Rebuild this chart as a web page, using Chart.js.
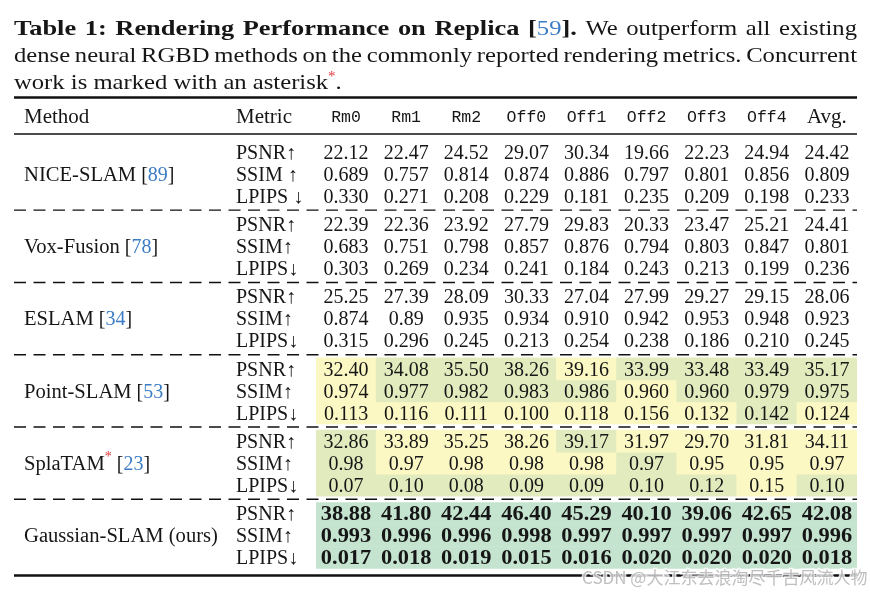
<!DOCTYPE html>
<html><head><meta charset="utf-8">
<script src="https://cdn.jsdelivr.net/npm/chart.js@4/dist/chart.umd.min.js"></script>
<style>html,body{margin:0;padding:0;background:#fff;overflow:hidden}</style>
</head><body>
<canvas id="c" width="870" height="593"></canvas>
<script>
// ---------- DATA ----------
const columns = ['Rm0','Rm1','Rm2','Off0','Off1','Off2','Off3','Off4','Avg.'];
const methods = ['NICE-SLAM','Vox-Fusion','ESLAM','Point-SLAM','SplaTAM','Gaussian-SLAM (ours)'];
const citations = ['89','78','34','53','23',''];
const concurrent = [false,false,false,false,true,false];
const metricNamesNice = ['PSNR↑','SSIM ↑','LPIPS ↓'];
const metricNames = ['PSNR↑','SSIM↑','LPIPS↓'];

const nicePSNR  = ['22.12','22.47','24.52','29.07','30.34','19.66','22.23','24.94','24.42'];
const niceSSIM  = ['0.689','0.757','0.814','0.874','0.886','0.797','0.801','0.856','0.809'];
const niceLPIPS = ['0.330','0.271','0.208','0.229','0.181','0.235','0.209','0.198','0.233'];

const voxPSNR  = ['22.39','22.36','23.92','27.79','29.83','20.33','23.47','25.21','24.41'];
const voxSSIM  = ['0.683','0.751','0.798','0.857','0.876','0.794','0.803','0.847','0.801'];
const voxLPIPS = ['0.303','0.269','0.234','0.241','0.184','0.243','0.213','0.199','0.236'];

const eslamPSNR  = ['25.25','27.39','28.09','30.33','27.04','27.99','29.27','29.15','28.06'];
const eslamSSIM  = ['0.874','0.89','0.935','0.934','0.910','0.942','0.953','0.948','0.923'];
const eslamLPIPS = ['0.315','0.296','0.245','0.213','0.254','0.238','0.186','0.210','0.245'];

const pointPSNR  = ['32.40','34.08','35.50','38.26','39.16','33.99','33.48','33.49','35.17'];
const pointSSIM  = ['0.974','0.977','0.982','0.983','0.986','0.960','0.960','0.979','0.975'];
const pointLPIPS = ['0.113','0.116','0.111','0.100','0.118','0.156','0.132','0.142','0.124'];

const splaPSNR  = ['32.86','33.89','35.25','38.26','39.17','31.97','29.70','31.81','34.11'];
const splaSSIM  = ['0.98','0.97','0.98','0.98','0.98','0.97','0.95','0.95','0.97'];
const splaLPIPS = ['0.07','0.10','0.08','0.09','0.09','0.10','0.12','0.15','0.10'];

const gaussPSNR  = ['38.88','41.80','42.44','46.40','45.29','40.10','39.06','42.65','42.08'];
const gaussSSIM  = ['0.993','0.996','0.996','0.998','0.997','0.997','0.997','0.997','0.996'];
const gaussLPIPS = ['0.017','0.018','0.019','0.015','0.016','0.020','0.020','0.020','0.018'];

// ranks: 1 = best, 2 = second, 3 = third
const pointPSNRRank  = [3,2,2,2,3,2,2,2,2];
const pointSSIMRank  = [3,2,2,2,2,3,2,2,2];
const pointLPIPSRank = [3,3,3,3,3,3,3,2,3];
const splaPSNRRank   = [2,3,3,3,2,3,3,3,3];
const splaSSIMRank   = [2,3,3,3,3,2,3,3,3];
const splaLPIPSRank  = [2,2,2,2,2,2,2,3,2];
const gaussRank      = [1,1,1,1,1,1,1,1,1];

const captionBold = 'Table 1: Rendering Performance on Replica';
const captionCite = '59';
const captionLine1Rest = 'We outperform all existing';
const captionLine2 = 'dense neural RGBD methods on the commonly reported rendering metrics. Concurrent';
const captionLine3 = 'work is marked with an asterisk';
const watermark = 'CSDN @大江东去浪淘尽千古风流人物';

// ---------- STYLE / LAYOUT ----------
const rankColors = {1:'#c5e4cf', 2:'#e2ebbe', 3:'#fcf8c4'};
const INK = '#161616', BLUE = '#3b7cc4', RED = '#e0363a';
const SERIF = '"Liberation Serif", "DejaVu Serif", serif';
const MONO = '"Liberation Mono", "DejaVu Sans Mono", monospace';
const TEXT_DY = 1.5;

const tableRows = [
  [nicePSNR, niceSSIM, niceLPIPS],
  [voxPSNR, voxSSIM, voxLPIPS],
  [eslamPSNR, eslamSSIM, eslamLPIPS],
  [pointPSNR, pointSSIM, pointLPIPS],
  [splaPSNR, splaSSIM, splaLPIPS],
  [gaussPSNR, gaussSSIM, gaussLPIPS]
];
const tableRanks = [null,null,null,
  [pointPSNRRank, pointSSIMRank, pointLPIPSRank],
  [splaPSNRRank, splaSSIMRank, splaLPIPSRank],
  [gaussRank, gaussRank, gaussRank]];

const GROUP_PITCH = 3.213, FIRST_ROW = 1.6, ROW_STEP = 0.978;
const rowVal = (g, r) => FIRST_ROW + g * GROUP_PITCH + r * ROW_STEP;
const sepVal = g => rowVal(g, 2) + (GROUP_PITCH - 2 * ROW_STEP) / 2;

const datasets = [];
tableRanks.forEach((rk, g) => {
  if (!rk) return;
  rk.forEach((ranks, r) => {
    const v = rowVal(g, r);
    datasets.push({
      data: columns.map(() => [v - ROW_STEP / 2, v + ROW_STEP / 2]),
      backgroundColor: ranks.map(k => rankColors[k]),
      borderWidth: 0,
      grouped: false,
      barPercentage: 1,
      categoryPercentage: 1
    });
  });
});

function fontFor(r) {
  return (r.b ? 'bold ' : '') + (r.s || 22) + 'px ' + (r.f || SERIF);
}
function runsWidth(ctx, runs) {
  let w = 0;
  for (const r of runs) { ctx.font = fontFor(r); w += ctx.measureText(r.t).width * (r.sx || 1); }
  return w;
}
function drawRuns(ctx, runs, x, y) {
  for (const r of runs) {
    ctx.font = fontFor(r);
    ctx.fillStyle = r.c || INK;
    const sx = r.sx || 1;
    ctx.save();
    ctx.translate(x, y + (r.dy || 0));
    ctx.scale(sx, 1);
    ctx.fillText(r.t, 0, 0);
    ctx.restore();
    x += ctx.measureText(r.t).width * sx;
  }
  return x;
}
function drawJustified(ctx, words, x0, x1, y) {
  const ws = words.map(w => runsWidth(ctx, w));
  const total = ws.reduce((a, b) => a + b, 0);
  const gap = (x1 - x0 - total) / (words.length - 1);
  let x = x0;
  words.forEach((w, i) => { drawRuns(ctx, w, x, y); x += ws[i] + gap; });
}
function fillScaled(ctx, t, x, y, sx) {
  ctx.save(); ctx.translate(x, y); ctx.scale(sx, 1); ctx.fillText(t, 0, 0); ctx.restore();
}

const tablePlugin = {
  id: 'tableText',
  beforeDraw(chart) {
    const ctx = chart.ctx;
    ctx.save(); ctx.fillStyle = '#fff'; ctx.fillRect(0, 0, chart.width, chart.height); ctx.restore();
  },
  afterDatasetsDraw(chart) {
    const ctx = chart.ctx;
    const xs = chart.scales.x, ys = chart.scales.y;
    const L = 14, R = chart.chartArea.right;
    ctx.save();
    ctx.textBaseline = 'alphabetic';
    ctx.textAlign = 'left';

    // caption
    const BSX = 1.2, NSX = 1.12;
    const line1 = captionBold.split(' ').map(t => [{t, b: true, sx: BSX}]);
    line1.push([{t: '[', b: true, sx: BSX}, {t: captionCite, c: BLUE, sx: NSX}, {t: '].', b: true, sx: BSX}]);
    captionLine1Rest.split(' ').forEach(t => line1.push([{t, sx: NSX}]));
    drawJustified(ctx, line1, L, R, 35);
    drawJustified(ctx, captionLine2.split(' ').map(t => [{t, sx: NSX}]), L, R, 62);
    drawRuns(ctx, [{t: captionLine3, sx: NSX}, {t: '*', c: RED, s: 15, dy: -8}, {t: '.', sx: NSX}], L, 89);

    // rules
    ctx.strokeStyle = '#111';
    const hline = (y, w, dash) => {
      ctx.beginPath(); ctx.lineWidth = w; ctx.setLineDash(dash || []);
      ctx.moveTo(L, y); ctx.lineTo(R, y); ctx.stroke();
    };
    hline(ys.getPixelForValue(-0.8) - 0.5, 2.4);
    hline(ys.getPixelForValue(0.8), 1.4);
    hline(ys.getPixelForValue(20.4) + 0.5, 2.4);
    for (let g = 0; g < methods.length - 1; g++) {
      hline(ys.getPixelForValue(sepVal(g)), 1.4, [12, 7.5]);
    }
    ctx.setLineDash([]);

    // header
    ctx.textBaseline = 'middle';
    const hy = ys.getPixelForValue(0) + TEXT_DY;
    ctx.textAlign = 'left';
    drawRuns(ctx, [{t: 'Method', s: 20, sx: 1.05}], 24, hy);
    drawRuns(ctx, [{t: 'Metric', s: 20, sx: 1.05}], 236, hy);
    ctx.textAlign = 'center';
    columns.forEach((c, i) => {
      const isMono = c !== 'Avg.';
      ctx.font = isMono ? '16.5px ' + MONO : '20px ' + SERIF;
      ctx.fillStyle = INK;
      fillScaled(ctx, c, xs.getPixelForValue(i), hy, isMono ? 1 : 1.05);
    });

    // body
    tableRows.forEach((rows, g) => {
      const bold = g === methods.length - 1;
      ctx.textAlign = 'left';
      const my = ys.getPixelForValue(rowVal(g, 1)) + TEXT_DY;
      const runs = [{t: methods[g], s: 20, sx: 1.03}];
      if (concurrent[g]) runs.push({t: '*', c: RED, s: 14, dy: -7});
      if (citations[g]) runs.push({t: ' [', s: 20}, {t: citations[g], s: 20, c: BLUE}, {t: ']', s: 20});
      drawRuns(ctx, runs, 24, my);
      rows.forEach((vals, r) => {
        const y = ys.getPixelForValue(rowVal(g, r)) + TEXT_DY;
        ctx.textAlign = 'left';
        const names = g === 0 ? metricNamesNice : metricNames;
        drawRuns(ctx, [{t: names[r], s: 20}], 236, y);
        ctx.textAlign = 'center';
        ctx.font = (bold ? 'bold 20px ' : '20px ') + SERIF;
        ctx.fillStyle = INK;
        vals.forEach((v, i) => fillScaled(ctx, v, xs.getPixelForValue(i), y, bold ? 1.12 : 1));
      });
    });

    // watermark
    ctx.textAlign = 'left';
    ctx.font = '17px "Noto Sans CJK SC", sans-serif';
    ctx.lineWidth = 3; ctx.strokeStyle = 'rgba(255,255,255,0.8)';
    ctx.strokeText(watermark, 582, 578);
    ctx.fillStyle = 'rgba(170,170,170,0.75)';
    ctx.fillText(watermark, 582, 578);
    ctx.restore();
  }
};

new Chart(document.getElementById('c'), {
  type: 'bar',
  data: { labels: columns, datasets },
  options: {
    responsive: false,
    animation: false,
    devicePixelRatio: 1,
    layout: { padding: { left: 316, right: 13, top: 98, bottom: 18 } },
    scales: {
      x: { type: 'category', display: false, offset: true, grid: { display: false } },
      y: { type: 'linear', display: false, min: -0.8, max: 20.4, reverse: true }
    },
    plugins: { legend: { display: false }, tooltip: { enabled: false } }
  },
  plugins: [tablePlugin]
});
</script>
</body></html>
